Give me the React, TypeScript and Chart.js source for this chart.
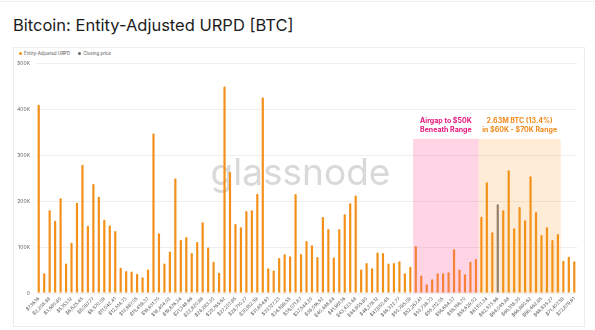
import React, { useEffect, useRef } from 'react';
import { Chart, registerables } from 'chart.js';

Chart.register(...registerables);

// Price bins (x categories)
const priceBins: string[] = [
  '$736.16', '$1,472.32', '$2,208.48', '$2,944.64', '$3,680.80', '$4,416.96', '$5,153.12', '$5,889.29', '$6,625.45', '$7,361.61',
  '$8,097.77', '$8,833.93', '$9,570.09', '$10,306.25', '$11,042.41', '$11,778.57', '$12,514.73', '$13,250.89', '$13,987.05', '$14,723.21',
  '$15,459.37', '$16,195.54', '$16,931.70', '$17,667.86', '$18,404.02', '$19,140.18', '$19,876.34', '$20,612.50', '$21,348.66', '$22,084.82',
  '$22,820.98', '$23,557.14', '$24,293.30', '$25,029.46', '$25,765.62', '$26,501.79', '$27,237.95', '$27,974.11', '$28,710.27', '$29,446.43',
  '$30,182.59', '$30,918.75', '$31,654.91', '$32,391.07', '$33,127.23', '$33,863.39', '$34,599.55', '$35,335.71', '$36,071.87', '$36,808.04',
  '$37,544.20', '$38,280.36', '$39,016.52', '$39,752.68', '$40,488.84', '$41,225.00', '$41,961.16', '$42,697.32', '$43,433.48', '$44,169.64',
  '$44,905.80', '$45,641.96', '$46,378.12', '$47,114.28', '$47,850.45', '$48,586.61', '$49,322.77', '$50,058.93', '$50,795.09', '$51,531.25',
  '$52,267.41', '$53,003.57', '$53,739.73', '$54,475.89', '$55,212.05', '$55,948.21', '$56,684.37', '$57,420.53', '$58,156.70', '$58,892.86',
  '$59,629.02', '$60,365.18', '$61,101.34', '$61,837.50', '$62,573.66', '$63,309.82', '$64,045.98', '$64,782.14', '$65,518.30', '$66,254.46',
  '$66,990.62', '$67,726.78', '$68,462.95', '$69,199.11', '$69,935.27', '$70,671.43', '$71,407.59', '$72,143.75', '$72,879.91',
];

// Entity-adjusted URPD supply per bin [BTC]
const urpdBtc: number[] = [
  409000, 43000, 180000, 157000, 206000, 64000, 109000, 196000, 279000, 146000,
  237000, 209000, 159000, 147000, 135000, 55000, 48000, 47000, 42000, 34000,
  51000, 347000, 130000, 64000, 90000, 249000, 116000, 122000, 87000, 111000,
  154000, 99000, 68000, 44000, 449000, 263000, 150000, 143000, 178000, 180000,
  216000, 425000, 54000, 49000, 76000, 84000, 80000, 215000, 85000, 113000,
  104000, 78000, 165000, 139000, 77000, 139000, 171000, 195000, 212000, 51000,
  65000, 54000, 88000, 87000, 64000, 65000, 69000, 43000, 57000, 102000,
  38000, 19000, 30000, 43000, 43000, 45000, 95000, 51000, 41000, 68000,
  74000, 166000, 241000, 132000, 193000, 180000, 267000, 141000, 187000, 158000,
  254000, 176000, 126000, 143000, 115000, 128000, 70000, 79000, 69000,
];

// Bin containing the closing price
const closingPriceBin = '$62,573.66';

// Y axis ticks
const yTickValues: number[] = [0, 100000, 200000, 300000, 400000, 500000];
const yTickLabels: string[] = ['0', '100K', '200K', '300K', '400K', '500K'];

// Highlighted ranges
const airgapBand = { from: '$51,531.25', to: '$59,629.02', top: 335000 };
const airgapText: string[] = ['Airgap to $50K', 'Beneath Range'];
const rangeBand = { from: '$60,365.18', to: '$70,671.43', top: 335000 };
const rangeText: string[] = ['2.63M BTC (13.4%)', 'in $60K - $70K Range'];

const FONT = 'Inter, "Noto Sans", "DejaVu Sans", sans-serif';
const ORANGE = '#F39019';
const GREY = '#7c7c7c';

const overlayPlugin = {
  id: 'overlays',
  beforeDatasetsDraw(chart: any) {
    const { ctx, chartArea } = chart;
    ctx.save();
    ctx.font = `400 37px ${FONT}`;
    ctx.fillStyle = '#d9d9d9';
    ctx.textAlign = 'center';
    ctx.textBaseline = 'alphabetic';
    ctx.fillText('glassnode', (chartArea.left + chartArea.right) / 2 - 6, chartArea.bottom - 108);
    ctx.restore();
  },
  afterDatasetsDraw(chart: any) {
    const { ctx } = chart;
    const xs = chart.scales.x;
    const ys = chart.scales.y;
    const half = (xs.getPixelForValue(1) - xs.getPixelForValue(0)) / 2;
    const bands = [
      { band: airgapBand, fill: 'rgba(255,87,155,0.25)', text: airgapText, color: '#E5177B' },
      { band: rangeBand, fill: 'rgba(247,147,26,0.18)', text: rangeText, color: '#F08A1C' },
    ];
    ctx.save();
    for (const b of bands) {
      const i1 = priceBins.indexOf(b.band.from);
      const i2 = priceBins.indexOf(b.band.to);
      const x1 = xs.getPixelForValue(i1) - half;
      const x2 = xs.getPixelForValue(i2) + half;
      const y1 = ys.getPixelForValue(b.band.top);
      const y2 = ys.getPixelForValue(0);
      ctx.fillStyle = b.fill;
      ctx.fillRect(x1, y1, x2 - x1, y2 - y1);
      ctx.fillStyle = b.color;
      ctx.font = `700 7px ${FONT}`;
      ctx.textAlign = 'center';
      ctx.textBaseline = 'middle';
      const cx = (x1 + x2) / 2;
      ctx.fillText(b.text[0], cx, y1 - 18);
      ctx.fillText(b.text[1], cx, y1 - 9.5);
    }
    ctx.restore();
  },
};

export default function App() {
  const ref = useRef<HTMLCanvasElement>(null);

  useEffect(() => {
    const canvas = ref.current;
    if (!canvas) return;
    const closingIdx = priceBins.indexOf(closingPriceBin);
    const chart = new Chart(canvas, {
      type: 'bar',
      data: {
        labels: priceBins,
        datasets: [
          {
            label: 'Entity-Adjusted URPD',
            data: urpdBtc.map((v, i) => (i === closingIdx ? null : v)),
            backgroundColor: ORANGE,
            grouped: false,
            barPercentage: 0.4,
            categoryPercentage: 1,
            borderRadius: 1,
          } as any,
          {
            label: 'Closing price',
            data: urpdBtc.map((v, i) => (i === closingIdx ? v : null)),
            backgroundColor: GREY,
            grouped: false,
            barPercentage: 0.4,
            categoryPercentage: 1,
            borderRadius: 1,
          } as any,
        ],
      },
      options: {
        responsive: false,
        animation: false,
        devicePixelRatio: 1,
        layout: { padding: { left: 0, right: 18, top: 63, bottom: 0 } },
        plugins: {
          legend: { display: false },
          tooltip: { enabled: false },
        },
        scales: {
          x: {
            grid: { display: false, drawTicks: false },
            border: { display: false },
            ticks: {
              autoSkip: false,
              maxRotation: 45,
              minRotation: 45,
              padding: 3,
              color: '#555',
              font: { size: 4.7, family: FONT },
              callback: (_v: any, i: number) => (i % 2 === 0 ? priceBins[i] : ''),
            },
            afterFit: (s: any) => {
              s.height = 37;
            },
          },
          y: {
            min: 0,
            max: 500000,
            afterBuildTicks: (s: any) => {
              s.ticks = yTickValues.map((v) => ({ value: v }));
            },
            ticks: {
              padding: 6,
              color: '#666',
              font: { size: 5, family: FONT },
              callback: (_v: any, i: number) => yTickLabels[i],
            },
            grid: { color: '#eeeeee', drawTicks: false, lineWidth: 1 },
            border: { display: false },
            afterFit: (s: any) => {
              s.width = 36;
            },
          },
        },
      },
      plugins: [overlayPlugin],
    });
    return () => chart.destroy();
  }, []);

  return (
    <div
      style={{
        position: 'fixed',
        left: 0,
        top: 0,
        width: 595,
        height: 330,
        background: '#fff',
        fontFamily: FONT,
        overflow: 'hidden',
      }}
    >
      <div style={{ position: 'absolute', left: 0, top: 1, width: 595, height: 1, background: '#eeeeee' }} />
      <div
        style={{
          position: 'absolute',
          left: 13,
          top: 16.5,
          fontSize: 16.5,
          lineHeight: 1,
          color: '#1c1c1c',
          fontWeight: 400,
          whiteSpace: 'nowrap',
        }}
      >
        Bitcoin: Entity-Adjusted URPD [BTC]
      </div>
      <div
        style={{
          position: 'absolute',
          left: 13,
          top: 47,
          width: 570,
          height: 278,
          border: '1px solid #ececec',
        }}
      />
      <div
        style={{
          position: 'absolute',
          left: 19,
          top: 50.5,
          height: 5,
          display: 'flex',
          alignItems: 'center',
          fontSize: 4.5,
          lineHeight: '5px',
          color: '#555',
          whiteSpace: 'nowrap',
        }}
      >
        <span style={{ width: 3, height: 3, borderRadius: '50%', background: ORANGE, display: 'inline-block', marginRight: 2 }} />
        <span>Entity-Adjusted URPD</span>
        <span style={{ width: 3, height: 3, borderRadius: '50%', background: '#666', display: 'inline-block', marginLeft: 8, marginRight: 2 }} />
        <span>Closing price</span>
      </div>
      <canvas
        ref={ref}
        width={595}
        height={330}
        style={{ position: 'absolute', left: 0, top: 0, width: 595, height: 330 }}
      />
    </div>
  );
}
